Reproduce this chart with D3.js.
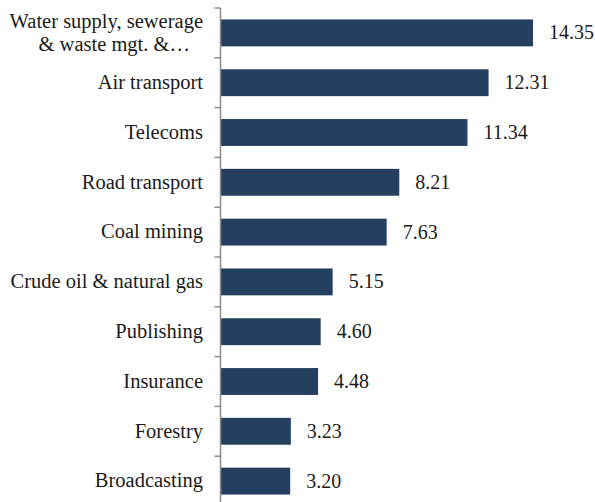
<!DOCTYPE html>
<html>
<head>
<meta charset="utf-8">
<script src="https://cdn.jsdelivr.net/npm/d3@7"></script>
<style>
  html, body { margin: 0; padding: 0; background: #fff; }
  text { font-family: "Liberation Serif", Tinos, "Noto Serif", "DejaVu Serif", serif; fill: #1a1a1a; }
</style>
</head>
<body>
<svg id="chart" width="595" height="502"></svg>
<script>
// Sector names (two-line entry uses "\n") and their values
const categories = [
  "Water supply, sewerage\n& waste mgt. &\u2026",
  "Air transport",
  "Telecoms",
  "Road transport",
  "Coal mining",
  "Crude oil & natural gas",
  "Publishing",
  "Insurance",
  "Forestry",
  "Broadcasting"
];
const values = [14.35, 12.31, 11.34, 8.21, 7.63, 5.15, 4.60, 4.48, 3.23, 3.20];

const svg = d3.select("#chart");
const axisX = 220.5;
const plotTop = 8;
const step = 49.8;
const labelSize = 20.5;
const valueSize = 20;

const y = d3.scaleBand()
  .domain(categories)
  .range([plotTop, plotTop + step * categories.length])
  .paddingInner(0.46)
  .paddingOuter(0.23);

const x = d3.scaleLinear()
  .domain([0, 14.35])
  .range([axisX, 533]);

// bars
svg.append("g").selectAll("rect")
  .data(values)
  .join("rect")
  .attr("x", axisX)
  .attr("y", (d, i) => y(categories[i]))
  .attr("width", d => x(d) - axisX)
  .attr("height", y.bandwidth())
  .attr("fill", "#243F60");

// value labels
svg.append("g").selectAll("text")
  .data(values)
  .join("text")
  .attr("x", d => x(d) + 16)
  .attr("y", (d, i) => y(categories[i]) + y.bandwidth() / 2)
  .attr("dy", "0.32em")
  .attr("font-size", valueSize)
  .text(d => d.toFixed(2));

// category axis with ticks between bands
const g = svg.append("g");
const boundaries = d3.range(categories.length + 1).map(i => plotTop + i * step);
g.append("line")
  .attr("x1", axisX).attr("x2", axisX)
  .attr("y1", plotTop).attr("y2", 502)
  .attr("stroke", "#8c8c8c").attr("stroke-width", 1.5);
g.selectAll("line.tick")
  .data(boundaries)
  .join("line")
  .attr("class", "tick")
  .attr("x1", axisX - 6).attr("x2", axisX)
  .attr("y1", d => d).attr("y2", d => d)
  .attr("stroke", "#8c8c8c").attr("stroke-width", 1.5);

// category labels
const labels = g.selectAll("text.cat")
  .data(categories)
  .join("text")
  .attr("class", "cat")
  .attr("text-anchor", "end")
  .attr("font-size", labelSize)
  .attr("x", 203)
  .attr("y", d => y(d) + y.bandwidth() / 2);

labels.each(function(d) {
  const lines = d.split("\n");
  const lh = 23;
  const t = d3.select(this);
  lines.forEach((ln, j) => {
    t.append("tspan")
      .attr("x", j === 1 ? 190 : 203)
      .attr("dy", j === 0 ? (0.31 * labelSize - (lines.length - 1) * lh / 2) + "px" : lh + "px")
      .text(ln);
  });
});
</script>
</body>
</html>
